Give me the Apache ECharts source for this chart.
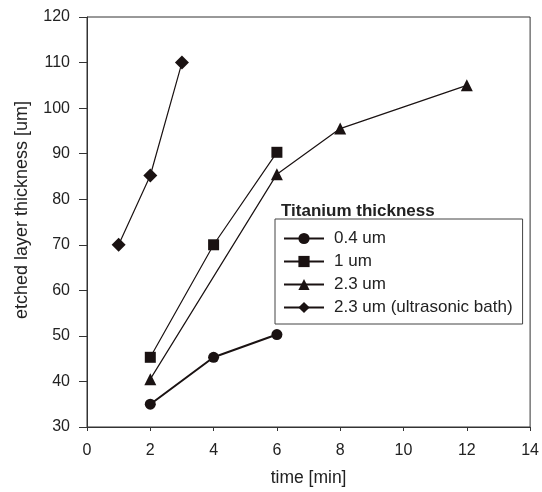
<!DOCTYPE html>
<html><head><meta charset="utf-8">
<script src="https://cdn.jsdelivr.net/npm/echarts@6/dist/echarts.min.js"></script>
<style>html,body{margin:0;padding:0;background:#fff}#c{width:542px;height:492px}</style>
</head><body><div id="c"></div>
<script>
const xTicks = [0,2,4,6,8,10,12,14];
const yTicks = [30,40,50,60,70,80,90,100,110,120];
const seriesNames = ['0.4 um','1 um','2.3 um','2.3 um (ultrasonic bath)'];
const s04x = [2,4,6];       const s04y = [35,45.3,50.3];
const s1x = [2,4,6];        const s1y = [45.3,70,90.3];
const s23x = [2,6,8,12];    const s23y = [40.5,85.5,95.5,105];
const sUx = [1,2,3];        const sUy = [70,85.2,110];
const symbols = ['circle','rect','triangle','diamond'];
const sizes = [11,11,12,14];
const xs = [s04x,s1x,s23x,sUx], ys=[s04y,s1y,s23y,sUy];
const font = 'Liberation Sans, Arial, sans-serif';
const chart = echarts.init(document.getElementById('c'));
chart.setOption({
  animation:false,
  backgroundColor:'#fff',
  grid:{left:87,right:9,top:17,bottom:61,show:true,borderColor:'#333',borderWidth:1},
  title:{text:'Titanium thickness',left:276,top:198,textStyle:{fontFamily:font,fontSize:17,fontWeight:'bold',color:'#222'}},
  legend:{orient:'vertical',left:275,top:219,data:seriesNames,itemWidth:40,itemHeight:14,itemGap:6,
    padding:[11,10,8,8],borderColor:'#444',borderWidth:1,backgroundColor:'#fff',
    textStyle:{fontFamily:font,fontSize:17,color:'#222',padding:[0,0,0,5]}},
  xAxis:{type:'value',min:0,max:14,interval:2,name:'time [min]',nameLocation:'middle',nameGap:42,
    nameTextStyle:{fontFamily:font,fontSize:17.5,color:'#222'},
    axisLine:{lineStyle:{color:'#333'}},axisTick:{length:4,lineStyle:{color:'#333'}},
    axisLabel:{fontFamily:font,fontSize:16,color:'#222',margin:16},splitLine:{show:false}},
  yAxis:{type:'value',min:30,max:120,interval:10,name:'etched layer thickness [um]',nameLocation:'middle',nameGap:56,
    nameTextStyle:{fontFamily:font,fontSize:18,color:'#222',padding:[0,0,0,24]},
    axisLine:{lineStyle:{color:'#333'}},axisTick:{length:8,lineStyle:{color:'#333'}},
    axisLabel:{fontFamily:font,fontSize:16,color:'#222',margin:17},splitLine:{show:false}},
  series: seriesNames.map((n,i)=>({
    name:n,type:'line',symbol:symbols[i],symbolSize:sizes[i],showAllSymbol:true,
    itemStyle:{color:'#1a1212'},lineStyle:{color:'#1a1212',width:i===0?2:1.2},
    data:xs[i].map((x,j)=>[x,ys[i][j]])
  }))
});
</script></body></html>
